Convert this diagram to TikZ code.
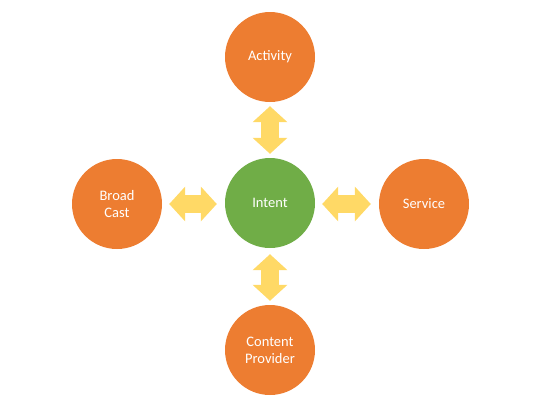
\documentclass[tikz,border=0pt]{standalone}
\usepackage{fontspec}
\setmainfont{Carlito}
\usetikzlibrary{arrows.meta}
\definecolor{orng}{HTML}{ED7D31}
\definecolor{grn}{HTML}{70AD47}
\definecolor{ylw}{HTML}{FFD966}
\begin{document}
\begin{tikzpicture}[x=1pt,y=-1pt,
  bubble/.style={circle,minimum size=90pt,inner sep=0pt,text=white,align=center,
    font=\fontsize{14.5pt}{17pt}\selectfont},
  outer/.style={bubble,fill=orng},
  inner/.style={bubble,fill=grn},
  fatarrow/.style={draw=ylw,line width=18pt,
    {Triangle[length=16pt,width=34pt,fill=ylw]}-{Triangle[length=16pt,width=34pt,fill=ylw]}}]
\useasboundingbox (0,0) rectangle (540,405);
\node[inner] (intent) at (270,203) {Intent};
\node[outer] (activity) at (270,57) {Activity};
\node[outer] (broad) at (117,204) {Broad\\Cast};
\node[outer] (service) at (424,204) {Service};
\node[outer] (content) at (270,350) {Content\\Provider};
\draw[fatarrow,shorten <=4pt,shorten >=4pt] (activity.south) -- (intent.north);
\draw[fatarrow,shorten <=6pt,shorten >=4pt] (intent.south) -- (content.north);
\draw[fatarrow,shorten <=7pt,shorten >=8pt] (broad.east) -- (intent.west |- broad.east);
\draw[fatarrow,shorten <=7pt,shorten >=8pt] (intent.east |- service.west) -- (service.west);
\end{tikzpicture}
\end{document}
